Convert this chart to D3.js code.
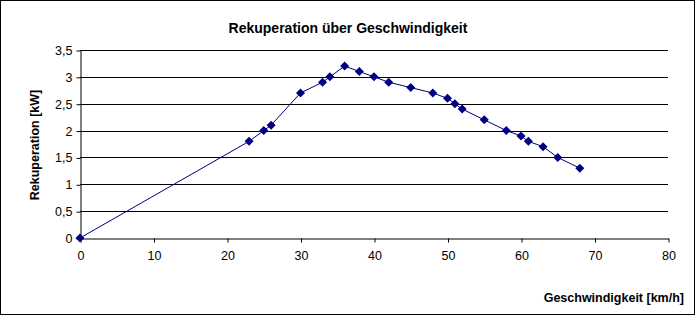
<!DOCTYPE html>
<html>
<head>
<meta charset="utf-8">
<script src="https://cdn.jsdelivr.net/npm/d3@7"></script>
<style>
  body { margin: 0; background: #fff; }
  svg { display: block; font-family: "Liberation Sans", Arial, sans-serif; }
</style>
</head>
<body>
<div id="chart"></div>
<script>
// Geschwindigkeit [km/h] und Rekuperation [kW]
var speed = [0, 23, 25, 26, 30, 33, 34, 36, 38, 40, 42, 45, 48, 50, 51, 52, 55, 58, 60, 61, 63, 65, 68];
var power = [0, 1.8, 2.0, 2.1, 2.7, 2.9, 3.0, 3.2, 3.1, 3.0, 2.9, 2.8, 2.7, 2.6, 2.5, 2.4, 2.2, 2.0, 1.9, 1.8, 1.7, 1.5, 1.3];
var xTicks = [0, 10, 20, 30, 40, 50, 60, 70, 80];
var yTicks = [0, 0.5, 1, 1.5, 2, 2.5, 3, 3.5];

var width = 696, height = 316;
var plotLeft = 80, plotRight = 668, plotTop = 50, plotBottom = 238;

var svg = d3.select('#chart').append('svg')
    .attr('width', width)
    .attr('height', height);

svg.append('rect')
    .attr('x', 0.5).attr('y', 0.5)
    .attr('width', width - 2).attr('height', height - 2)
    .attr('fill', '#fff').attr('stroke', '#000');

var x = d3.scaleLinear().domain([0, 80]).range([plotLeft, plotRight]);
var y = d3.scaleLinear().domain([0, 3.5]).range([plotBottom, plotTop]);

var fmt = function(d) { return String(d).replace('.', ','); };

// gridlines
svg.append('g')
    .selectAll('line')
    .data(yTicks.filter(function(d) { return d > 0; }))
    .enter().append('line')
    .attr('x1', plotLeft).attr('x2', plotRight)
    .attr('y1', function(d) { return Math.round(y(d)) + 0.5; })
    .attr('y2', function(d) { return Math.round(y(d)) + 0.5; })
    .attr('stroke', '#000');

var yAxis = svg.append('g')
    .attr('transform', 'translate(' + (plotLeft + 0.5) + ',0.5)')
    .call(d3.axisLeft(y).tickValues(yTicks).tickFormat(fmt).tickSize(4).tickSizeOuter(0).tickPadding(4));

var xAxis = svg.append('g')
    .attr('transform', 'translate(0.5,' + (plotBottom + 0.5) + ')')
    .call(d3.axisBottom(x).tickValues(xTicks).tickSize(4).tickSizeOuter(0).tickPadding(9));

[yAxis, xAxis].forEach(function(a) {
    a.selectAll('text').attr('font-size', 12.5).attr('fill', '#000')
        .attr('font-family', '"Liberation Sans", Arial, sans-serif');
    a.selectAll('line, path').attr('stroke', '#000');
});

var pts = speed.map(function(s, i) { return [s, power[i]]; });

svg.append('path')
    .datum(pts)
    .attr('fill', 'none')
    .attr('stroke', '#000080')
    .attr('stroke-width', 1)
    .attr('d', d3.line().x(function(d) { return x(d[0]); }).y(function(d) { return y(d[1]); }));

svg.append('g')
    .selectAll('path')
    .data(pts)
    .enter().append('path')
    .attr('d', 'M0,-4.5L4.5,0L0,4.5L-4.5,0Z')
    .attr('fill', '#000080')
    .attr('transform', function(d) { return 'translate(' + x(d[0]) + ',' + y(d[1]) + ')'; });

svg.append('text')
    .attr('x', 348).attr('y', 33)
    .attr('text-anchor', 'middle')
    .attr('font-size', 14).attr('font-weight', 'bold')
    .text('Rekuperation über Geschwindigkeit');

svg.append('text')
    .attr('transform', 'translate(39,' + 145 + ') rotate(-90)')
    .attr('text-anchor', 'middle')
    .attr('font-size', 12.5).attr('font-weight', 'bold')
    .text('Rekuperation [kW]');

svg.append('text')
    .attr('x', 684).attr('y', 302)
    .attr('text-anchor', 'end')
    .attr('font-size', 12.5).attr('font-weight', 'bold')
    .text('Geschwindigkeit [km/h]');
</script>
</body>
</html>
